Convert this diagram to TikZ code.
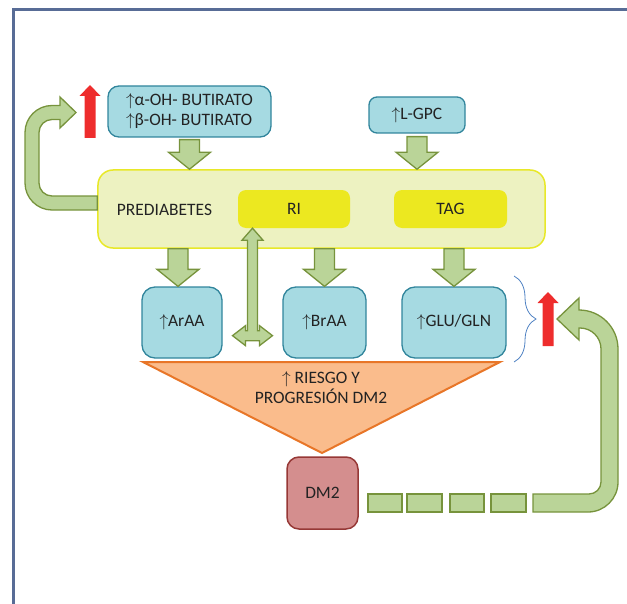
\documentclass[tikz,border=0pt]{standalone}
\usepackage{fontspec}
\setmainfont{Carlito}
\usetikzlibrary{calc,decorations.pathreplacing}

\definecolor{boxfill}{RGB}{166,218,226}
\definecolor{boxline}{RGB}{49,133,156}
\definecolor{prefill}{RGB}{237,242,193}
\definecolor{preline}{RGB}{232,232,40}
\definecolor{riyellow}{RGB}{236,232,32}
\definecolor{arrowfill}{RGB}{186,212,152}
\definecolor{arrowline}{RGB}{119,147,60}
\definecolor{upred}{RGB}{238,45,45}
\definecolor{trifill}{RGB}{250,188,140}
\definecolor{triline}{RGB}{232,118,40}
\definecolor{dmfill}{RGB}{212,142,142}
\definecolor{dmline}{RGB}{150,56,54}
\definecolor{framecol}{RGB}{88,108,150}
\definecolor{bracecol}{RGB}{80,130,195}
\definecolor{txtcol}{RGB}{35,35,35}

\newcommand{\upar}{\ensuremath{\uparrow}}
\newcommand{\blockdown}[2]{%
	\draw[block arrow] let \p1=(#1), \p2=(#2) in (\x1-10bp,\y1) -- (\x1+10bp,\y1) -- (\x1+10bp,\y2+17bp) -- (\x1+21bp,\y2+17bp) -- (\x1,\y2) -- (\x1-21bp,\y2+17bp) -- (\x1-10bp,\y2+17bp) -- cycle;}
\newcommand{\redup}[2]{%
	\fill[upred] (#1) -- ++(10.5,11) -- ++(-5,0) -- ++(0,#2) -- ++(-11,0) -- ++(0,-#2) -- ++(-5,0) -- cycle;}

\begin{document}
\begin{tikzpicture}[x=1bp,y=-1bp]
		\tikzstyle{txt} = [text=txtcol, font=\fontsize{17.5}{20}\selectfont]
		\tikzstyle{cyanbox} = [txt, draw=boxline, fill=boxfill, line width=1.3bp, rounded corners=11bp, inner sep=0pt]
		\tikzstyle{block arrow} = [draw=arrowline, fill=arrowfill, line width=1.3bp, line join=miter]
		
		\useasboundingbox (0,0) rectangle (627,604);
		\clip (0,0) rectangle (627,604);
		\draw[framecol, line width=2.6bp] (13.3,640) -- (13.3,9.3) -- (640,9.3);
		
		\node[cyanbox, minimum width=163bp, minimum height=51bp, align=left] (but) at (189.5,111.5) {\upar α-OH- BUTIRATO\\\upar β-OH- BUTIRATO};
		\node[cyanbox, minimum width=96bp, minimum height=36bp, rounded corners=8bp] (lgpc) at (417,115) {\upar L-GPC};
		
		\node[draw=preline, fill=prefill, line width=1.5bp, rounded corners=15bp, minimum width=447bp, minimum height=78bp] (pre) at (321.5,209) {};
		\node[txt] (prelabel) at (164.5,210) {PREDIABETES};
		\node[txt, fill=riyellow, rounded corners=8bp, minimum width=112bp, minimum height=38bp] (ri) at (294,209) {RI};
		\node[txt, fill=riyellow, rounded corners=8bp, minimum width=113bp, minimum height=38bp] (tag) at (450.5,209) {TAG};
		
		\node[cyanbox, minimum width=80bp, minimum height=71bp, rounded corners=13bp] (ara) at (182,322.5) {\upar ArAA};
		\node[cyanbox, minimum width=83bp, minimum height=71bp, rounded corners=13bp] (bra) at (324.5,322.5) {\upar BrAA};
		\node[cyanbox, minimum width=104bp, minimum height=71bp, rounded corners=13bp] (glu) at (454,322.5) {\upar GLU/GLN};
		
		\draw[triline, fill=trifill, line width=2bp, line join=miter] (143,362) -- (500,362) -- (322,453) -- cycle;
		\node[txt, align=center] (risk) at (321,388) {\upar\ RIESGO Y\\PROGRESIÓN DM2};
		
		\node[txt, draw=dmline, fill=dmfill, line width=1.5bp, rounded corners=12bp, minimum width=71bp, minimum height=72bp] (dm) at (322.5,493) {DM2};
		
		\blockdown{[yshift=-2bp]but.south}{pre.north}
		\blockdown{[yshift=-3bp]lgpc.south}{pre.north}
		\blockdown{[xshift=-4bp]pre.south -| ara.north}{ara.north}
		\blockdown{pre.south -| bra.north}{bra.north}
		\blockdown{pre.south -| glu.north}{glu.north}
		
		\path (ara.east) -- (bra.west) coordinate[pos=0.5] (gap);
		\coordinate (riup) at (gap |- ri.south);
		\coordinate (ridown) at ($(gap |- ara.south)+(0,-23)$);
		\draw[block arrow] (riup) -- ++(10.5,12) -- ++(-5.5,0) -- ($(ridown)+(5,-5)$) -- ++(2,0) -- ++(0,-5) -- ++(13,10) -- ++(-13,10) -- ++(0,-5) -- ++(-14,0) -- ++(0,5) -- ++(-13,-10) -- ++(13,-10) -- ++(0,5) -- ++(2,0) -- ($(riup)+(-5,12)$) -- ++(-5.5,0) -- cycle;
		
		\draw[block arrow] (pre.west |- 0,196) -- (52,196) arc[start angle=270, end angle=180, radius=13bp] -- (39,132.5) arc[start angle=180, end angle=90, radius=13bp] -- (60,119.5) -- (60,128) -- (76,112.5) -- (60,97) -- (60,105.5) -- (52,105.5) arc[start angle=90, end angle=180, radius=27bp] -- (25,183) arc[start angle=180, end angle=270, radius=27bp] -- (pre.west |- 0,210) -- cycle;
		\redup{90,85}{42}
		
		\foreach \a/\b in {368/402,407/442,450/484,491/526}
			\draw[block arrow] (\a,494) rectangle (\b,512);
		\draw[block arrow] (533,494) -- (589,494) arc[start angle=270, end angle=360, radius=12bp] -- (601,349) arc[start angle=0, end angle=90, radius=21bp] -- (579,328) -- (579,340) -- (557,319) -- (579,298) -- (579,310) arc[start angle=90, end angle=0, radius=39bp] -- (618,482) arc[start angle=0, end angle=-90, radius=30bp] -- (533,512) -- cycle;
		\redup{548,292}{43}
		
		\draw[bracecol, line width=0.8bp, decorate, decoration={brace, amplitude=22bp}] (514,276) -- (514,362);
\end{tikzpicture}
\end{document}
